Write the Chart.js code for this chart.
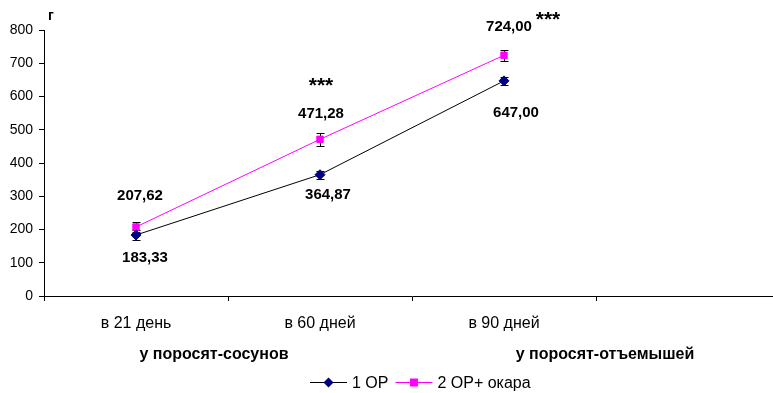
<!DOCTYPE html>
<html>
<head>
<meta charset="utf-8">
<script src="https://cdn.jsdelivr.net/npm/chart.js@4.4.1/dist/chart.umd.min.js"></script>
<style>
  body { margin: 0; background: #fff; overflow: hidden; }
  #wrap { position: relative; width: 790px; height: 393px; }
</style>
</head>
<body>
<div id="wrap"><canvas id="myChart"></canvas></div>
<script>
const labels = ["в 21 день", "в 60 дней", "в 90 дней", ""];
const groupLabels = ["у поросят-сосунов", "у поросят-отъемышей"];
const seriesNames = ["1 ОР", "2 ОР+ окара"];
const valuesOR = [183.33, 364.87, 647.0, null];
const valuesOkara = [207.62, 471.28, 724.0, null];
const errorsOR = [15, 12, 12, null];
const errorsOkara = [15, 19, 17, null];
const starsOkara = ["", "***", "***", ""];
const yMin = 0, yMax = 800, yStep = 100;
const yUnit = "г";

const FONT = "'Liberation Sans', Arial, sans-serif";

// label nudges (px) so the numbers sit like in the original
const shiftOR = [[9, 23], [8, 20], [12, 32]];
const shiftOkara = [[4, -31], [1, -25], [5, -28]];

const fmt = (v) => v.toFixed(2).replace(".", ",");

const errorBars = {
  id: "errorBars",
  beforeDatasetsDraw(chart) {
    const ctx = chart.ctx;
    const y = chart.scales.y;
    const errs = [errorsOR, errorsOkara];
    ctx.save();
    ctx.strokeStyle = "#000";
    ctx.lineWidth = 1;
    chart.data.datasets.forEach((ds, di) => {
      chart.getDatasetMeta(di).data.forEach((pt, i) => {
        const v = ds.data[i];
        const e = errs[di][i];
        if (v == null || e == null) return;
        const px = Math.round(pt.x) + 0.5;
        const top = Math.round(y.getPixelForValue(v + e)) + 0.5;
        const bot = Math.round(y.getPixelForValue(v - e)) + 0.5;
        ctx.beginPath();
        ctx.moveTo(px, top);
        ctx.lineTo(px, bot);
        ctx.moveTo(px - 4, top);
        ctx.lineTo(px + 4, top);
        ctx.moveTo(px - 4, bot);
        ctx.lineTo(px + 4, bot);
        ctx.stroke();
      });
    });
    ctx.restore();
  },
};

const valueLabels = {
  id: "valueLabels",
  afterDatasetsDraw(chart) {
    const ctx = chart.ctx;
    const shifts = [shiftOR, shiftOkara];
    ctx.save();
    ctx.fillStyle = "#000";
    ctx.textAlign = "center";
    ctx.textBaseline = "middle";
    chart.data.datasets.forEach((ds, di) => {
      chart.getDatasetMeta(di).data.forEach((pt, i) => {
        const v = ds.data[i];
        if (v == null) return;
        const lx = pt.x + shifts[di][i][0];
        const ly = pt.y + shifts[di][i][1];
        ctx.font = "bold 15px " + FONT;
        ctx.fillText(fmt(v), lx, ly);
        if (di === 1 && starsOkara[i]) {
          ctx.font = "bold 21px " + FONT;
          let sx = lx, sy = ly - 28;
          if (sy < 22) { sx = lx + 39; sy = ly - 7; }
          ctx.fillText(starsOkara[i], sx, sy);
        }
      });
    });
    // unit on top of y axis
    const y = chart.scales.y;
    ctx.font = "bold 14px " + FONT;
    ctx.textAlign = "left";
    ctx.fillText(yUnit, y.right + 4, y.top - 14);
    // group captions under the axis
    const x = chart.scales.x;
    const gy = chart.chartArea.bottom + 59;
    ctx.font = "bold 16px " + FONT;
    ctx.textAlign = "center";
    ctx.fillText(groupLabels[0], (x.getPixelForValue(0) + x.getPixelForValue(1)) / 2 - 14, gy);
    ctx.fillText(groupLabels[1], (x.getPixelForValue(2) + x.getPixelForValue(3)) / 2 + 9, gy);
    ctx.restore();
  },
};

// legend: line with marker in the middle, then the series name
const lineLegend = {
  id: "lineLegend",
  afterDraw(chart) {
    const ctx = chart.ctx;
    const area = chart.chartArea;
    const lineLen = 37, gapText = 5, gapItem = 7;
    ctx.save();
    ctx.font = "16px " + FONT;
    ctx.textBaseline = "middle";
    ctx.textAlign = "left";
    const items = chart.data.datasets.map((ds) => ({ ds, w: ctx.measureText(ds.label).width }));
    let total = 0;
    items.forEach((it, i) => { total += lineLen + gapText + it.w + (i ? gapItem : 0); });
    let x = Math.round((area.left + area.right) / 2 + 8 - total / 2);
    const ly = area.bottom + 86.5;
    items.forEach((it) => {
      const ds = it.ds;
      ctx.strokeStyle = ds.borderColor;
      ctx.lineWidth = 1;
      ctx.beginPath();
      ctx.moveTo(x, ly);
      ctx.lineTo(x + lineLen, ly);
      ctx.stroke();
      const cx = x + lineLen / 2;
      ctx.fillStyle = ds.pointBackgroundColor;
      ctx.beginPath();
      if (ds.pointStyle === "rectRot") {
        ctx.moveTo(cx, ly - 5);
        ctx.lineTo(cx + 5, ly);
        ctx.lineTo(cx, ly + 5);
        ctx.lineTo(cx - 5, ly);
        ctx.closePath();
      } else {
        ctx.rect(cx - 4, ly - 4, 8, 8);
      }
      ctx.fill();
      ctx.fillStyle = "#000";
      ctx.fillText(ds.label, x + lineLen + gapText, ly + 1);
      x += lineLen + gapText + it.w + gapItem;
    });
    ctx.restore();
  },
};

const data = {
  labels,
  datasets: [
    {
      label: seriesNames[0],
      data: valuesOR,
      borderColor: "#000",
      borderWidth: 1,
      backgroundColor: "#000080",
      pointStyle: "rectRot",
      pointRadius: 5,
      pointBackgroundColor: "#000080",
      pointBorderColor: "#000080",
      pointBorderWidth: 1,
      tension: 0,
    },
    {
      label: seriesNames[1],
      data: valuesOkara,
      borderColor: "#ff00ff",
      borderWidth: 1,
      backgroundColor: "#ff00ff",
      pointStyle: "rect",
      pointRadius: 4.5,
      pointBackgroundColor: "#ff00ff",
      pointBorderColor: "#ff00ff",
      pointBorderWidth: 1,
      tension: 0,
    },
  ],
};

const config = {
  type: "line",
  data: data,
  options: {
    responsive: true,
    maintainAspectRatio: false,
    animation: false,
    layout: { padding: { top: 30, right: 10, left: 0, bottom: 27 } },
    plugins: {
      tooltip: { enabled: false },
      legend: { display: false },
    },
    scales: {
      x: {
        offset: true,
        afterFit: (s) => { s.height = 70; },
        grid: {
          offset: true,
          drawOnChartArea: false,
          tickLength: 5,
          color: "#000",
        },
        border: { color: "#000", width: 1 },
        ticks: {
          color: "#000",
          padding: 13,
          maxRotation: 0,
          font: { family: FONT, size: 16 },
        },
      },
      y: {
        min: yMin,
        max: yMax,
        afterFit: (s) => { s.width = 44; },
        grid: {
          drawOnChartArea: false,
          tickLength: 5,
          color: "#000",
        },
        border: { color: "#000", width: 1, dash: [6, 4] },
        ticks: {
          stepSize: yStep,
          color: "#000",
          padding: 6,
          font: { family: FONT, size: 14 },
        },
      },
    },
  },
  plugins: [errorBars, valueLabels, lineLegend],
};

const ctx = document.getElementById("myChart").getContext("2d");
const myChart = new Chart(ctx, config);
</script>
</body>
</html>
